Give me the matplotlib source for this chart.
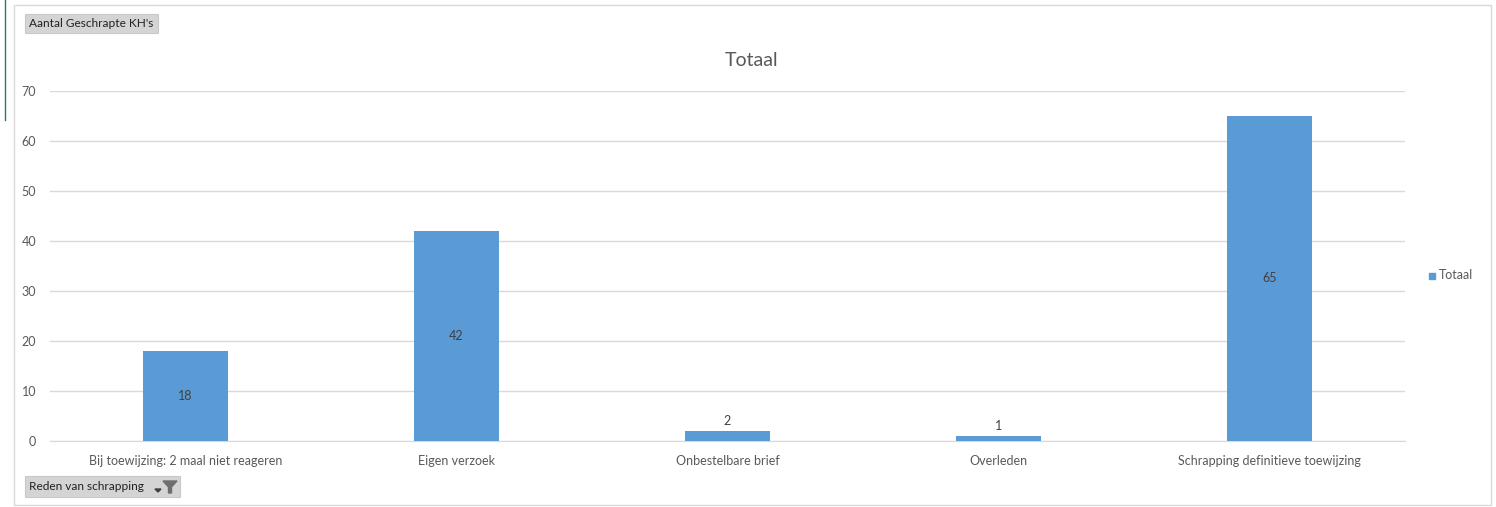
import matplotlib
matplotlib.use("Agg")
import matplotlib.pyplot as plt
from matplotlib.patches import Rectangle
import matplotlib.lines as mlines

categories = ["Bij toewijzing: 2 maal niet reageren", "Eigen verzoek",
              "Onbestelbare brief", "Overleden", "Schrapping definitieve toewijzing"]
values = [18, 42, 2, 1, 65]
yticks = [0, 10, 20, 30, 40, 50, 60, 70]
series_name = "Totaal"
title = "Totaal"
field_button_top = "Aantal Geschrapte KH's"
field_button_bottom = "Reden van schrapping"

W, H = 1496, 507
fig = plt.figure(figsize=(W / 100, H / 100), dpi=100)
plt.rcParams['font.family'] = ['Lato', 'DejaVu Sans']
txt = "#595959"
bar_color = "#5B9BD5"
fs = 9

# outer border
fig.add_artist(Rectangle((14 / W, 1 - 505 / H), (1491 - 14) / W, (505 - 5) / H,
                         transform=fig.transFigure, fill=False, edgecolor="#d9d9d9", lw=1))
fig.add_artist(mlines.Line2D([5 / W, 5 / W], [1 - 120 / H, 1.0], transform=fig.transFigure,
                             color="#2e7d4f", lw=1))

ax = fig.add_axes([50 / W, 1 - 441 / H, (1405 - 50) / W, (441 - 91) / H])
x = list(range(len(categories)))
bars = ax.bar(x, values, width=0.315, color=bar_color, zorder=3)
ax.set_xlim(-0.5, len(categories) - 0.5)
ax.set_ylim(0, 70)
ax.set_yticks(yticks)
ax.set_yticklabels([str(v) for v in yticks], fontsize=fs, color=txt)
ax.set_xticks(x)
ax.set_xticklabels(categories, fontsize=fs, color=txt)
ax.tick_params(axis='both', length=0)
ax.tick_params(axis='y', pad=10)
ax.tick_params(axis='x', pad=10)
ax.yaxis.grid(True, color="#d9d9d9", lw=1, zorder=0)
for s in ["top", "right", "left"]:
    ax.spines[s].set_visible(False)
ax.spines["bottom"].set_color("#d9d9d9")
ax.set_axisbelow(True)

for xi, v in zip(x, values):
    if v > 5:
        ax.text(xi, v / 2, str(v), ha="center", va="center", fontsize=fs, color="#404040", zorder=4)
    else:
        ax.text(xi, v + 0.8, str(v), ha="center", va="bottom", fontsize=fs, color="#404040", zorder=4)

fig.text(752 / W, 1 - 61 / H, title, ha="center", va="center", fontsize=14, color=txt)

# legend
fig.add_artist(Rectangle((1429 / W, 1 - 279 / H), 6 / W, 6 / H, transform=fig.transFigure,
                         color=bar_color))
fig.text(1439 / W, 1 - 275 / H, series_name, ha="left", va="center", fontsize=fs, color=txt)

# field buttons
fig.add_artist(Rectangle((25 / W, 1 - 33 / H), (158 - 25) / W, (33 - 14) / H,
                         transform=fig.transFigure, facecolor="#d4d4d4", edgecolor="#c8c8c8", lw=0.8))
fig.text(29 / W, 1 - 23.5 / H, field_button_top, ha="left", va="center", fontsize=8.6, color="#222222")
fig.add_artist(Rectangle((25 / W, 1 - 497 / H), (180 - 25) / W, (497 - 476) / H,
                         transform=fig.transFigure, facecolor="#d4d4d4", edgecolor="#c8c8c8", lw=0.8))
fig.text(29 / W, 1 - 487 / H, field_button_bottom, ha="left", va="center", fontsize=8.6, color="#222222")
# filter icon
fig.add_artist(plt.Polygon([[163 / W, 1 - 481 / H], [177 / W, 1 - 481 / H], [171.5 / W, 1 - 487 / H],
                            [171.5 / W, 1 - 493 / H], [168.5 / W, 1 - 493 / H], [168.5 / W, 1 - 487 / H]],
                           closed=True, transform=fig.transFigure, color="#6e6e6e"))
fig.add_artist(plt.Polygon([[155 / W, 1 - 489 / H], [161 / W, 1 - 489 / H], [158 / W, 1 - 492 / H]],
                           closed=True, transform=fig.transFigure, color="#404040"))

fig.savefig("out.png", dpi=100)
